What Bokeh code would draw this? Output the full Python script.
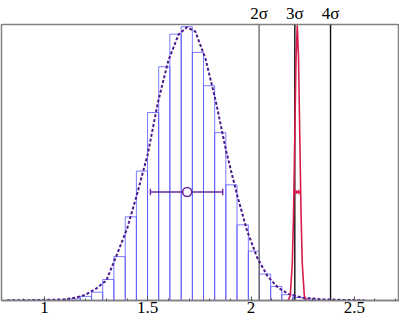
from bokeh.plotting import figure
from bokeh.models import Range1d, FixedTicker, LinearAxis
from bokeh.embed import file_html
from bokeh.resources import INLINE

# ---- data ----
hist_edges = [1.120, 1.174, 1.228, 1.282, 1.336, 1.391, 1.445, 1.499, 1.553, 1.607,
              1.662, 1.716, 1.770, 1.824, 1.878, 1.932, 1.987, 2.041, 2.095, 2.149,
              2.203, 2.258, 2.312]
hist_heights = [0.006, 0.015, 0.030, 0.076, 0.159, 0.303, 0.469, 0.681, 0.847, 0.965,
                0.992, 0.899, 0.778, 0.608, 0.419, 0.274, 0.179, 0.096, 0.051, 0.021,
                0.011, 0.005]

fit_x = [0.82, 0.90, 1.00, 1.10, 1.15, 1.20, 1.25, 1.30, 1.35, 1.40, 1.45, 1.50, 1.55,
         1.60, 1.65, 1.69, 1.73, 1.78, 1.83, 1.88, 1.93, 1.98, 2.03, 2.08, 2.13, 2.18,
         2.25, 2.35, 2.45, 2.55]
fit_y = [0.001, 0.001, 0.002, 0.004, 0.010, 0.021, 0.043, 0.073, 0.165, 0.260, 0.390,
         0.530, 0.720, 0.870, 0.965, 0.990, 0.975, 0.875, 0.720, 0.540, 0.390, 0.255,
         0.155, 0.088, 0.047, 0.024, 0.010, 0.004, 0.002, 0.001]

peak_x = [2.180, 2.190, 2.200, 2.206, 2.212, 2.218, 2.224, 2.230, 2.236, 2.242, 2.248,
          2.258, 2.268]
peak_y = [0.001, 0.018, 0.135, 0.320, 0.600, 0.880, 0.997, 0.880, 0.600, 0.320, 0.135,
          0.018, 0.001]

sigma_x = [2.039, 2.212, 2.385]
sigma_labels = ["2σ", "3σ", "4σ"]
sigma_colors = ["#6e6e6e", "#111111", "#111111"]

point_x, point_y, point_lo, point_hi = 1.691, 0.393, 1.513, 1.863
red_x, red_y, red_lo, red_hi = 2.224, 0.393, 2.210, 2.238

x_major = [1, 1.5, 2, 2.5]
x_minor = [0.9, 1.0, 1.1, 1.2, 1.3, 1.4, 1.5, 1.6, 1.7, 1.8, 1.9, 2.0, 2.1, 2.2, 2.3,
           2.4, 2.5, 2.6, 2.7]
x_labels = {1: "1", 1.5: "1.5", 2: "2", 2.5: "2.5"}

FONT = "Liberation Serif"
PURPLE = "#6a2a9c"
DARKPURPLE = "#4b1a8c"
RED = "#d81b4a"

p = figure(width=399, height=315, x_range=Range1d(0.792, 2.714), y_range=Range1d(0, 1.0),
           output_backend="svg", toolbar_location=None, y_axis_location=None,
           min_border_left=1, min_border_right=1, min_border_top=0, min_border_bottom=0)
p.xgrid.grid_line_color = None
p.ygrid.grid_line_color = None
p.outline_line_color = "#808080"
p.outline_line_width = 1.5
p.background_fill_color = "white"

# histogram
p.quad(left=hist_edges[:-1], right=hist_edges[1:], bottom=0, top=hist_heights,
       fill_color=None, line_color="#4f4fff", line_alpha=0.75, line_width=1)

# sigma lines
p.segment(x0=sigma_x, y0=[0] * 3, x1=sigma_x, y1=[1.0] * 3, line_color=sigma_colors,
          line_width=1.4)

# fit curve
p.line(fit_x, fit_y, line_color=DARKPURPLE, line_width=2, line_dash="3 2")

# red peak
p.line(peak_x, peak_y, line_color=RED, line_width=1.6)

# purple point with error bar
p.segment(x0=[point_lo], y0=[point_y], x1=[point_hi], y1=[point_y], line_color=PURPLE,
          line_width=1.6)
p.segment(x0=[point_lo, point_hi], y0=[point_y - 0.012] * 2, x1=[point_lo, point_hi],
          y1=[point_y + 0.012] * 2, line_color=PURPLE, line_width=1.4)
p.scatter([point_x], [point_y], marker="circle", size=9, fill_color="white",
          line_color=PURPLE, line_width=1.6)

# red point with error bar
p.segment(x0=[red_lo], y0=[red_y], x1=[red_hi], y1=[red_y], line_color=RED, line_width=1.4)
p.segment(x0=[red_lo, red_hi], y0=[red_y - 0.01] * 2, x1=[red_lo, red_hi],
          y1=[red_y + 0.01] * 2, line_color=RED, line_width=1.2)
p.scatter([red_x], [red_y], marker="x", size=5, line_color=RED, line_width=1.4)

# bottom axis
xa = p.xaxis[0]
xa.ticker = FixedTicker(ticks=x_major, minor_ticks=x_minor)
xa.major_label_overrides = x_labels
xa.axis_line_color = "#808080"
xa.axis_line_width = 1.5
xa.major_tick_in = 4
xa.major_tick_out = 0
xa.minor_tick_in = 2
xa.minor_tick_out = 0
xa.major_tick_line_color = "#555555"
xa.minor_tick_line_color = "#555555"
xa.major_label_standoff = 1
xa.major_label_text_font = FONT
xa.major_label_text_font_size = "17px"
xa.major_label_text_color = "black"

# top axis carrying the sigma labels
ta = LinearAxis(ticker=FixedTicker(ticks=sigma_x, minor_ticks=[]),
                major_label_overrides=dict(zip(sigma_x, sigma_labels)))
ta.axis_line_color = None
ta.major_tick_line_color = None
ta.minor_tick_line_color = None
ta.major_tick_in = 0
ta.major_tick_out = 0
ta.minor_tick_in = 0
ta.minor_tick_out = 0
ta.major_label_standoff = 2
ta.major_label_text_font = FONT
ta.major_label_text_font_size = "17px"
ta.major_label_text_color = "black"
p.add_layout(ta, "above")

open("out.html", "w").write(file_html(p, INLINE))
